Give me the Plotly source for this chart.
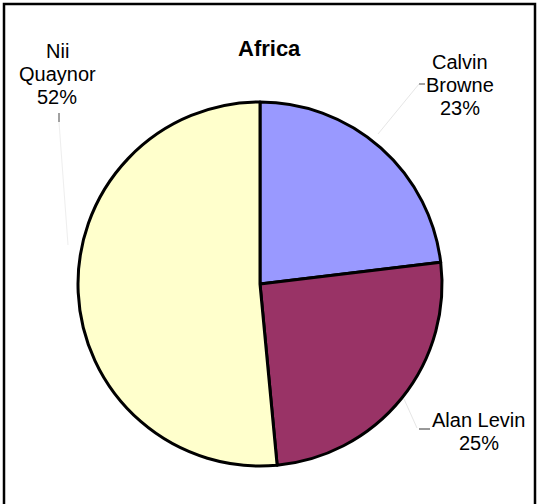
import plotly.graph_objects as go

names = ["Calvin Browne", "Alan Levin", "Nii Quaynor"]
name_lines = [["Calvin", "Browne"], ["Alan Levin"], ["Nii", "Quaynor"]]
values = [23.1, 25.4, 51.5]
colors = ["#9999FF", "#993366", "#FFFFCC"]
title = "Africa"

W, H = 539, 504

def px(x):
    return x / W

def py(y):
    return 1 - y / H

total = sum(values)
pct_text = ["%d%%" % int(v / total * 100 + 0.5) for v in values]

fig = go.Figure()
fig.add_trace(go.Pie(
    labels=names, values=values, sort=False, direction="clockwise", rotation=0,
    marker=dict(colors=colors, line=dict(color="black", width=3)),
    textinfo="none", hoverinfo="label+percent", showlegend=False,
    domain=dict(x=[px(78), px(442)], y=[py(466), py(102)]),
))

font = dict(family="Liberation Sans, Arial, sans-serif", size=20, color="black")
# (center x, first line center y)
ann_pos = [(460, 62), (479, 420), (57, 51)]
spacing = 23.2
for lines, pct, (x, y0) in zip(name_lines, pct_text, ann_pos):
    for i, t in enumerate(lines + [pct]):
        fig.add_annotation(x=px(x), y=py(y0 + i * spacing), xref="paper", yref="paper", text=t,
                           showarrow=False, font=font, xanchor="center", yanchor="middle")

fig.add_annotation(x=px(269), y=py(48), xref="paper", yref="paper", text="<b>" + title + "</b>",
                   showarrow=False, font=dict(family="Liberation Sans, Arial, sans-serif", size=22, color="black"),
                   xanchor="center", yanchor="middle")

shapes = [
    dict(type="rect", xref="paper", yref="paper", x0=px(4), x1=px(535), y0=py(530), y1=py(4),
         line=dict(color="black", width=2.5), fillcolor="rgba(0,0,0,0)"),
    # leader lines
    dict(type="line", xref="paper", yref="paper", x0=px(419), x1=px(425), y0=py(84), y1=py(84), line=dict(color="#444", width=1)),
    dict(type="line", xref="paper", yref="paper", x0=px(419), x1=px(378), y0=py(84), y1=py(134), line=dict(color="#e6e6e6", width=1)),
    dict(type="line", xref="paper", yref="paper", x0=px(419), x1=px(430), y0=py(429), y1=py(429), line=dict(color="#333", width=1)),
    dict(type="line", xref="paper", yref="paper", x0=px(417), x1=px(404), y0=py(428), y1=py(399), line=dict(color="#e6e6e6", width=1)),
    dict(type="line", xref="paper", yref="paper", x0=px(59), x1=px(59), y0=py(113), y1=py(122), line=dict(color="#444", width=1)),
    dict(type="line", xref="paper", yref="paper", x0=px(59), x1=px(68), y0=py(122), y1=py(245), line=dict(color="#eeeeee", width=1)),
]

fig.update_layout(width=W, height=H, margin=dict(l=0, r=0, t=0, b=0),
                  paper_bgcolor="white", plot_bgcolor="white", shapes=shapes)

fig.write_html("out.html", config={"displayModeBar": False},
               post_script="document.body.style.margin='0';document.body.style.overflow='hidden';")
